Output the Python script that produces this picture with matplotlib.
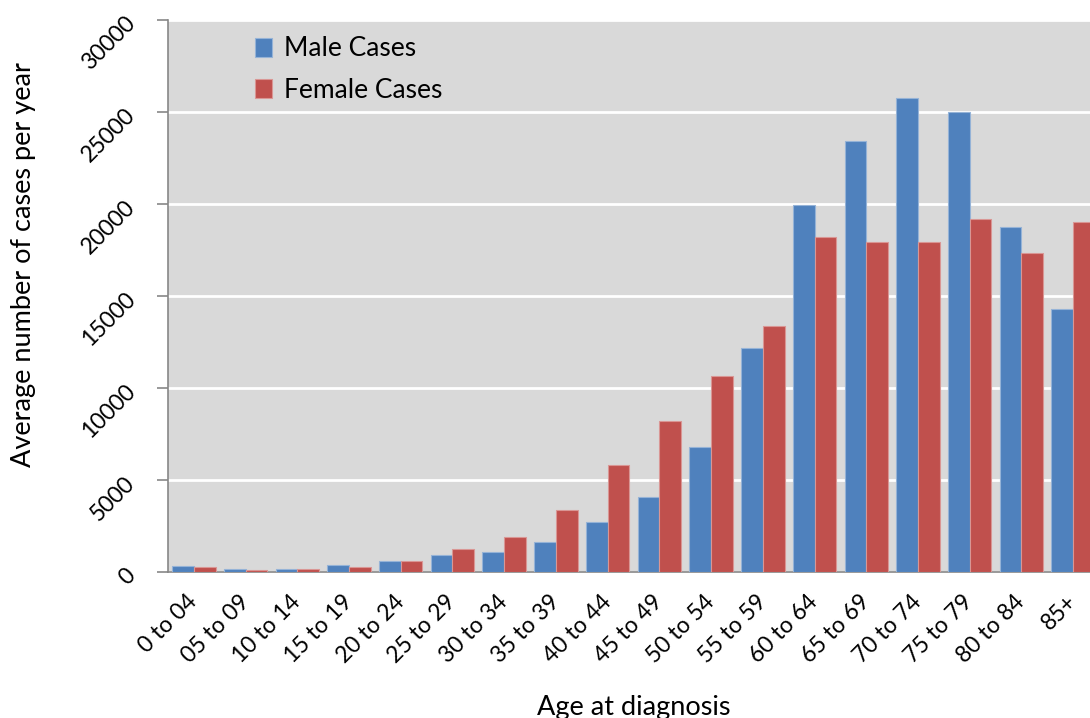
import matplotlib
matplotlib.use("Agg")
import matplotlib.pyplot as plt
import numpy as np

categories = ["0 to 04", "05 to 09", "10 to 14", "15 to 19", "20 to 24", "25 to 29",
              "30 to 34", "35 to 39", "40 to 44", "45 to 49", "50 to 54", "55 to 59",
              "60 to 64", "65 to 69", "70 to 74", "75 to 79", "80 to 84", "85+"]
male_cases = [330, 150, 190, 380, 600, 920, 1100, 1650, 2700, 4080, 6800, 12170,
              19930, 23420, 25740, 24980, 18770, 14290]
female_cases = [270, 110, 140, 280, 600, 1270, 1900, 3370, 5800, 8200, 10650, 13370,
                18220, 17950, 17950, 19180, 17320, 19000]
y_ticks = [0, 5000, 10000, 15000, 20000, 25000, 30000]

plt.rcParams['font.family'] = ['Lato', 'DejaVu Sans']

W, H = 1090, 718
fig = plt.figure(figsize=(W / 100, H / 100), dpi=100)
left, right, top, bottom = 168, 1099, 20, 572
ax = fig.add_axes([left / W, 1 - bottom / H, (right - left) / W, (bottom - top) / H])
ax.set_facecolor('#D9D9D9')

x = np.arange(len(categories))
bw = 0.42
ax.bar(x - bw / 2, male_cases, bw, color='#4F81BD', edgecolor='#95B3D7', linewidth=0.8,
       label='Male Cases', zorder=3)
ax.bar(x + bw / 2, female_cases, bw, color='#C0504D', edgecolor='#D99694', linewidth=0.8,
       label='Female Cases', zorder=3)

ax.set_xlim(-0.5, len(categories) - 0.5)
ax.set_ylim(0, 30000)
ax.set_yticks(y_ticks)
ax.set_yticklabels([str(v) for v in y_ticks], rotation=45, fontsize=16.5,
                   rotation_mode='anchor', ha='right', va='center')
ax.set_xticks(x)
ax.set_xticklabels(categories, rotation=45, fontsize=16.5,
                   rotation_mode='anchor', ha='right', va='center')
ax.tick_params(axis='x', length=0, pad=19)
ax.tick_params(axis='y', length=8, color='#878787', width=1.2, pad=18)
ax.yaxis.grid(True, color='white', linewidth=2, zorder=1)
ax.set_axisbelow(True)

for s in ['top', 'right']:
    ax.spines[s].set_visible(False)
for s in ['left', 'bottom']:
    ax.spines[s].set_color('#878787')
    ax.spines[s].set_linewidth(1.2)

ax.set_xlabel('Age at diagnosis', fontsize=19.5, labelpad=20)
ax.set_ylabel('Average number of cases per year', fontsize=19.5, va='center')
ax.yaxis.set_label_coords((24 - left) / (right - left), (bottom - 265) / (bottom - top))

leg = ax.legend(loc='upper left', bbox_to_anchor=(0.072, 1.006), frameon=False,
                fontsize=19, handlelength=0.65, handleheight=0.75, handletextpad=0.45,
                labelspacing=0.62, borderaxespad=0.35)

fig.savefig('out.png', dpi=100)
